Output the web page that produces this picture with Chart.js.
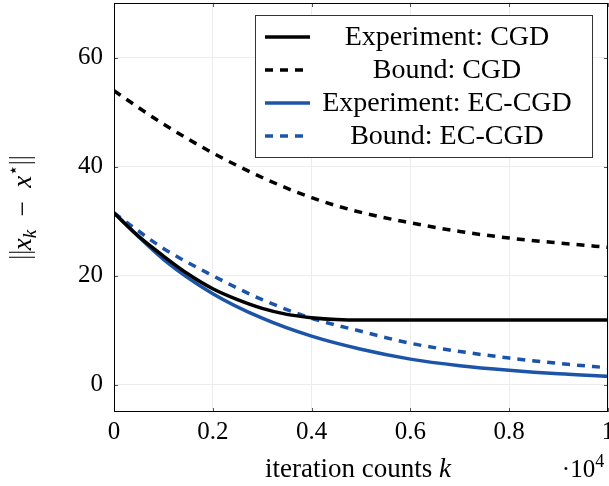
<!DOCTYPE html>
<html>
<head>
<meta charset="utf-8">
<script src="https://cdn.jsdelivr.net/npm/chart.js@4.4.1/dist/chart.umd.min.js"></script>
<style>
  body { margin: 0; background: #fff; }
  #wrap { width: 609px; height: 486px; }
</style>
</head>
<body>
<div id="wrap"><canvas id="chart" width="609" height="486"></canvas></div>
<script>
// values (x in units of 10^4 iterations)
const xGrid = [0, 0.1, 0.2, 0.3, 0.4, 0.5, 0.6, 0.7, 0.8, 0.9, 1.0];
const boundCGD = [53.9, 47.8, 42.5, 38.0, 34.3, 31.6, 29.7, 28.1, 26.9, 26.0, 25.2];
const expECCGD = [31.5, 23.0, 16.7, 12.2, 8.9, 6.5, 4.7, 3.5, 2.65, 2.0, 1.55];
const boundECCGD = [31.5, 25.0, 20.0, 15.6, 12.2, 9.8, 7.6, 6.1, 4.9, 3.9, 3.1];

const xCGD = [0, 0.05, 0.1, 0.15, 0.2, 0.25, 0.3, 0.35, 0.4, 0.45, 0.5, 0.6, 0.7, 0.8, 0.9, 1.0];
const expCGD = [31.5, 27.2, 23.6, 20.3, 17.6, 15.6, 14.0, 12.9, 12.3, 11.95, 11.85, 11.85, 11.85, 11.85, 11.85, 11.85];

const xTicks = [0, 0.2, 0.4, 0.6, 0.8, 1];
const xTickLabels = ['0', '0.2', '0.4', '0.6', '0.8', '1'];
const yTicks = [0, 20, 40, 60];

const BLUE = '#1c54a8';
const SERIF = '"Liberation Serif", "DejaVu Serif", serif';

const toPoints = (xs, ys) => xs.map((x, i) => ({ x: x, y: ys[i] }));

// runs: [text, font, dy]; the text '||' is drawn as a tall double bar
function drawRuns(ctx, runs, cx, cy) {
    const widthOf = r => {
        if (r[0] === '||') return 9;
        ctx.font = r[1];
        return ctx.measureText(r[0]).width;
    };
    let total = 0;
    runs.forEach(r => { total += widthOf(r); });
    let x = cx - total / 2;
    ctx.textAlign = 'left';
    ctx.textBaseline = 'alphabetic';
    runs.forEach(r => {
        if (r[0] === '||') {
            ctx.save();
            ctx.strokeStyle = '#000';
            ctx.lineWidth = 1.1;
            ctx.beginPath();
            ctx.moveTo(x + 2, cy - 22); ctx.lineTo(x + 2, cy + 4);
            ctx.moveTo(x + 7, cy - 22); ctx.lineTo(x + 7, cy + 4);
            ctx.stroke();
            ctx.restore();
        } else {
            ctx.font = r[1];
            ctx.fillText(r[0], x, cy + (r[2] || 0));
        }
        x += widthOf(r);
    });
}

const decorPlugin = {
    id: 'decor',
    afterDatasetsDraw(chart) {
        const ctx = chart.ctx;
        const a = chart.chartArea;
        const xs = chart.scales.x, ys = chart.scales.y;
        ctx.save();

        // inner tick marks on all four sides
        ctx.strokeStyle = '#555';
        ctx.lineWidth = 1;
        ctx.beginPath();
        xTicks.forEach(v => {
            const px = Math.round(xs.getPixelForValue(v)) + 0.5;
            ctx.moveTo(px, a.bottom); ctx.lineTo(px, a.bottom - 4);
            ctx.moveTo(px, a.top); ctx.lineTo(px, a.top + 4);
        });
        yTicks.forEach(v => {
            const py = Math.round(ys.getPixelForValue(v)) + 0.5;
            ctx.moveTo(a.left, py); ctx.lineTo(a.left + 4, py);
            ctx.moveTo(a.right, py); ctx.lineTo(a.right - 4, py);
        });
        ctx.stroke();

        // frame
        ctx.strokeStyle = '#000';
        ctx.lineWidth = 1;
        ctx.strokeRect(Math.round(a.left) + 0.5, Math.round(a.top) + 0.5,
            Math.round(a.right - a.left) - 1, Math.round(a.bottom - a.top) - 1);

        // legend box
        const lx = 255, ly = 15, lw = 337, lh = 142;
        ctx.fillStyle = '#fff';
        ctx.fillRect(lx, ly, lw, lh);
        ctx.strokeStyle = '#333';
        ctx.strokeRect(lx + 0.5, ly + 0.5, lw, lh);
        const rows = [37, 70, 103, 136];
        chart.data.datasets.forEach((ds, i) => {
            const y = rows[i];
            ctx.strokeStyle = ds.borderColor;
            ctx.lineWidth = ds.borderWidth;
            ctx.setLineDash(ds.borderDash || []);
            ctx.beginPath();
            ctx.moveTo(265, y); ctx.lineTo(310, y);
            ctx.stroke();
            ctx.setLineDash([]);
            ctx.fillStyle = '#000';
            ctx.font = '28px ' + SERIF;
            ctx.textAlign = 'center';
            ctx.textBaseline = 'middle';
            ctx.fillText(ds.label, 447, y + 1);
        });

        // x axis title and multiplier
        ctx.fillStyle = '#000';
        const cx = (a.left + a.right) / 2;
        drawRuns(ctx, [
            ['iteration counts ', '27px ' + SERIF],
            ['k', 'italic 27px ' + SERIF]
        ], cx - 3, 477);
        drawRuns(ctx, [
            ['\u00b710', '25px ' + SERIF],
            ['4', '18px ' + SERIF, -10]
        ], 583, 477);

        // y axis title, rotated
        ctx.save();
        ctx.translate(31, (a.top + a.bottom) / 2);
        ctx.rotate(-Math.PI / 2);
        drawRuns(ctx, [
            ['||', ''],
            ['x', 'italic 27px ' + SERIF],
            ['k', 'italic 19px ' + SERIF, 5],
            ['  \u2212  ', '27px ' + SERIF],
            ['x', 'italic 27px ' + SERIF],
            ['\u22c6', '18px ' + SERIF, -12],
            ['||', '']
        ], 0, 0);
        ctx.restore();

        ctx.restore();
    }
};

new Chart(document.getElementById('chart'), {
    type: 'line',
    data: {
        datasets: [
            {
                label: 'Experiment: CGD',
                data: toPoints(xCGD, expCGD),
                borderColor: '#000',
                borderWidth: 3.5
            },
            {
                label: 'Bound: CGD',
                data: toPoints(xGrid, boundCGD),
                borderColor: '#000',
                borderWidth: 3.5,
                borderDash: [8, 7]
            },
            {
                label: 'Experiment: EC-CGD',
                data: toPoints(xGrid, expECCGD),
                borderColor: BLUE,
                borderWidth: 3.5
            },
            {
                label: 'Bound: EC-CGD',
                data: toPoints(xGrid, boundECCGD),
                borderColor: BLUE,
                borderWidth: 3.5,
                borderDash: [8, 7]
            }
        ]
    },
    options: {
        responsive: false,
        animation: false,
        parsing: false,
        layout: { padding: { top: 3, right: 1, left: 0, bottom: 0 } },
        elements: {
            point: { radius: 0 },
            line: { cubicInterpolationMode: 'monotone', fill: false, borderCapStyle: 'butt' }
        },
        plugins: {
            legend: { display: false },
            tooltip: { enabled: false }
        },
        scales: {
            x: {
                type: 'linear',
                min: 0,
                max: 1,
                afterBuildTicks: scale => { scale.ticks = xTicks.map(v => ({ value: v })); },
                afterFit: scale => { scale.height = 74; scale.paddingLeft = 0; scale.paddingRight = 0; },
                ticks: {
                    callback: v => xTickLabels[xTicks.indexOf(v)],
                    font: { family: SERIF, size: 25 },
                    color: '#000',
                    padding: 5,
                    maxRotation: 0,
                    autoSkip: false
                },
                grid: { color: '#ececec', drawTicks: false },
                border: { display: false }
            },
            y: {
                min: -5,
                max: 70,
                afterBuildTicks: scale => { scale.ticks = yTicks.map(v => ({ value: v })); },
                afterFit: scale => { scale.width = 114; scale.paddingTop = 0; scale.paddingBottom = 0; },
                ticks: {
                    font: { family: SERIF, size: 25 },
                    color: '#000',
                    padding: 11
                },
                grid: { color: '#ececec', drawTicks: false },
                border: { display: false }
            }
        }
    },
    plugins: [decorPlugin]
});
</script>
</body>
</html>
